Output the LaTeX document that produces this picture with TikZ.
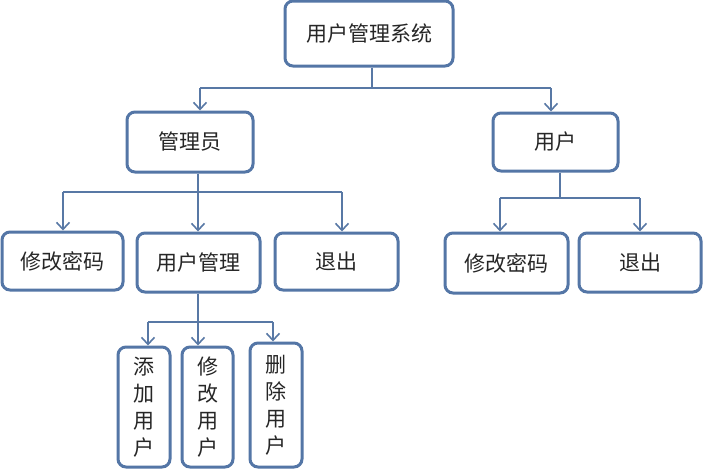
\documentclass[tikz,border=0pt]{standalone}
\usepackage{fontspec}
\newfontfamily\cjk{Noto Sans CJK SC}
\usetikzlibrary{arrows.meta}
\definecolor{boxblue}{RGB}{84,118,166}
\definecolor{lineblue}{RGB}{88,120,165}
\begin{document}
\begin{tikzpicture}[x=1pt,y=-1pt,
  box/.style={draw=boxblue,line width=3pt,rounded corners=8pt,fill=white,
    inner sep=0pt,align=center,font=\cjk\fontsize{21}{27}\selectfont,text=black!85},
  conn/.style={draw=lineblue,line width=1.6pt},
  arr/.style={conn,-{Straight Barb[length=7pt,width=13pt,line width=1.6pt]}}]
\useasboundingbox[fill=white] (0,0) rectangle (703,469);
% nodes
\node[box,minimum width=168pt,minimum height=65pt] (top) at (369,33.5) {用户管理系统};
\node[box,minimum width=126pt,minimum height=60pt] (admin) at (190,142) {管理员};
\node[box,minimum width=125pt,minimum height=58pt] (user) at (555.5,142) {用户};
\node[box,minimum width=121pt,minimum height=58pt] (pwd1) at (62.5,261) {修改密码};
\node[box,minimum width=123pt,minimum height=59pt] (umgmt) at (198.5,262.5) {用户管理};
\node[box,minimum width=123pt,minimum height=57pt] (exit1) at (336.5,261.5) {退出};
\node[box,minimum width=123pt,minimum height=60pt] (pwd2) at (506.5,263) {修改密码};
\node[box,minimum width=122pt,minimum height=59pt] (exit2) at (640,262.5) {退出};
\node[box,minimum width=52pt,minimum height=120pt] (add) at (144,407) {添\\加\\用\\户};
\node[box,minimum width=51pt,minimum height=120pt] (mod) at (207.5,407) {修\\改\\用\\户};
\node[box,minimum width=52pt,minimum height=124pt] (del) at (276,405) {删\\除\\用\\户};
% junction coordinates
\coordinate (t0) at (372,88);
\coordinate (tA) at (200,88);
\coordinate (tU) at (551,88);
\coordinate (a0) at (198,192);
\coordinate (a1) at (63,192);
\coordinate (a3) at (342,192);
\coordinate (u0) at (560,198);
\coordinate (u1) at (500,198);
\coordinate (u2) at (640,198);
\coordinate (m0) at (198,322);
\coordinate (m1) at (148,322);
\coordinate (m3) at (273,322);
% connectors
\draw[conn] (top.south -| t0) -- (t0);
\draw[conn] (tA) -- (tU);
\draw[arr] (tA) -- (admin.north -| tA);
\draw[arr] (tU) -- (user.north -| tU);
\draw[conn] (admin.south -| a0) -- (a0);
\draw[conn] (a1) -- (a3);
\draw[arr] (a1) -- (pwd1.north -| a1);
\draw[arr] (a0) -- (umgmt.north -| a0);
\draw[arr] (a3) -- (exit1.north -| a3);
\draw[conn] (user.south -| u0) -- (u0);
\draw[conn] (u1) -- (u2);
\draw[arr] (u1) -- (pwd2.north -| u1);
\draw[arr] (u2) -- (exit2.north -| u2);
\draw[conn] (umgmt.south -| m0) -- (m0);
\draw[conn] (m1) -- (m3);
\draw[arr] (m1) -- (add.north -| m1);
\draw[arr] (m0) -- (mod.north -| m0);
\draw[arr] (m3) -- (del.north -| m3);
\end{tikzpicture}
\end{document}
